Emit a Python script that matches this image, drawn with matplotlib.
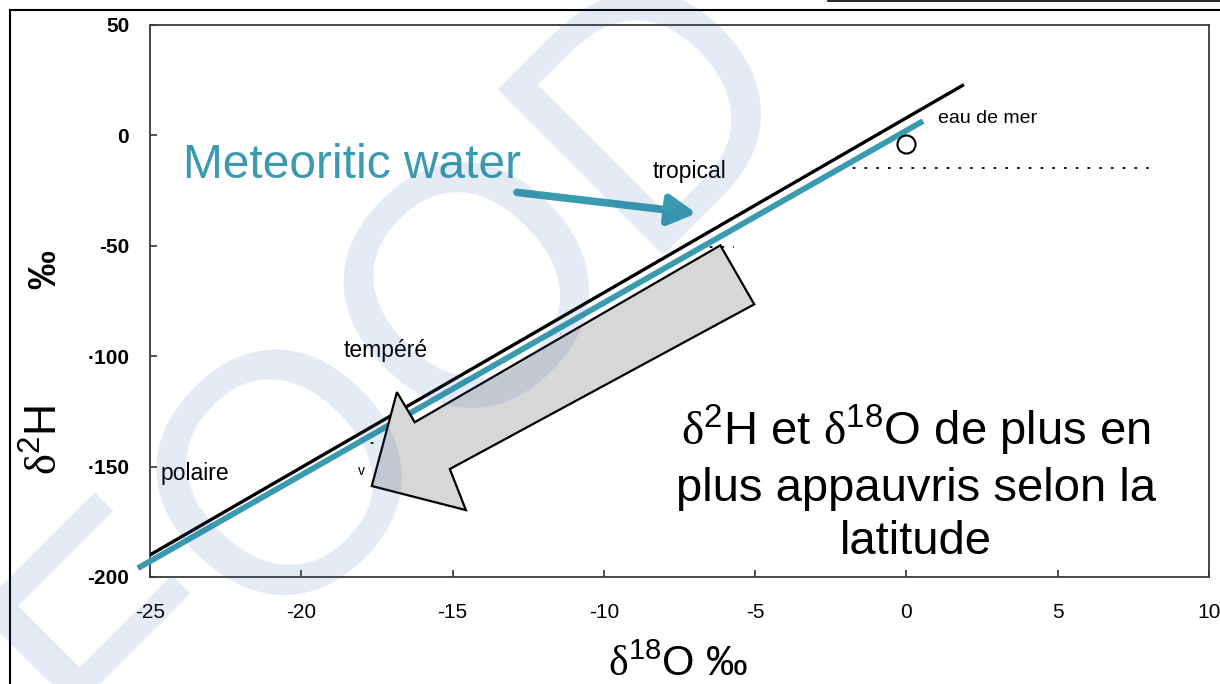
import matplotlib
matplotlib.use("Agg")
import matplotlib.pyplot as plt
from matplotlib.patches import Polygon
from matplotlib.lines import Line2D

plt.rcParams["font.family"] = ["Liberation Sans", "DejaVu Sans"]
plt.rcParams["mathtext.fontset"] = "custom"
plt.rcParams["mathtext.rm"] = "Liberation Serif"
plt.rcParams["mathtext.sf"] = "Liberation Sans"

# data
gmwl_x = [-25.0, 1.9]
gmwl_y = [-190.0, 23.0]
meteoric_x = [-25.4, 0.55]
meteoric_y = [-196.0, 6.5]
seawater_x = [0.0]
seawater_y = [-4.0]

zone_names = ["tropical", "tempéré", "polaire"]
zone_x = [-8.4, -18.6, -24.65]
zone_y = [-16.5, -97.5, -153.0]

# dotted marks left over in the scan
dots_x = [[-2.15, 8.1], [-6.9, -5.7], [-11.8, -11.4], [-18.1, -17.4]]
dots_y = [-14.6, -50.7, -90.0, -139.4]

# grey "depletion" arrow outline
arrow_x = [-6.15, -5.03, -15.09, -14.56, -17.67, -16.84, -16.25]
arrow_y = [-49.8, -76.5, -151.1, -169.7, -158.8, -116.3, -129.9]

x_ticks = [-25, -20, -15, -10, -5, 0, 5, 10]
x_labels = ["-25", "-20", "-15", "-10", "-5", "0", "5", "10"]
y_ticks = [50, 0, -50, -100, -150, -200]
y_labels = ["50", "0", "-50", "·100", "·150", "-200"]

teal = "#3A9BB0"

fig = plt.figure(figsize=(12.2, 6.84), dpi=100)
ax = fig.add_axes([150 / 1220, 107 / 684, 1059 / 1220, 552 / 684])

ax.plot(gmwl_x, gmwl_y, color="black", lw=2.4, solid_capstyle="butt", zorder=3)
ax.plot(meteoric_x, meteoric_y, color=teal, lw=4.2, solid_capstyle="butt",
        clip_on=False, zorder=4)
ax.plot(seawater_x, seawater_y, "o", ms=13, mfc="white", mec="black", mew=1.5, zorder=5)
ax.text(1.05, 7.7, "eau de mer", fontsize=14, va="center", ha="left")

for dx, dy in zip(dots_x, dots_y):
    ax.plot(dx, [dy, dy], color="black", lw=1.3, ls=(0, (1.5, 5)), zorder=2)
ax.text(-18.0, -152, "v", fontsize=10, ha="center", va="center")

for name, zx, zy in zip(zone_names, zone_x, zone_y):
    ax.text(zx, zy, name, fontsize=16.5, ha="left", va="center")

ax.text(-23.9, -19.5, "Meteoritic water", fontsize=34.5, color=teal,
        ha="left", va="baseline")
ax.annotate("", xy=(-6.94, -35.3), xytext=(-12.87, -25.8),
            arrowprops=dict(arrowstyle="-|>,head_length=0.9,head_width=0.5",
                            color=teal, lw=5.5, mutation_scale=18,
                            shrinkA=0, shrinkB=0), zorder=6)

ax.add_patch(Polygon(list(zip(arrow_x, arrow_y)), closed=True, facecolor="#D7D7D7",
                     edgecolor="black", lw=1.6, zorder=7))

ax.text(0.3, -157.5, "$\\mathrm{\\delta}^{\\mathsf{2}}$H et $\\mathrm{\\delta}^{\\mathsf{18}}$O de plus en\n"
        "plus appauvris selon la\nlatitude",
        fontsize=34, ha="center", va="center", multialignment="center",
        linespacing=1.26, zorder=8)

ax.set_xlim(-25, 10)
ax.set_ylim(-200, 50)
ax.set_xticks(x_ticks)
ax.set_xticklabels(x_labels, fontsize=15)
ax.set_yticks(y_ticks)
ax.set_yticklabels(y_labels, fontsize=15, fontweight="bold")
ax.tick_params(axis="x", direction="in", length=5, width=1.2, pad=19, color="#333333")
ax.tick_params(axis="y", direction="in", length=5, width=1.2, pad=15, color="#333333")
for s in ax.spines.values():
    s.set_color("#3a3a3a")
    s.set_linewidth(1.3)

fig.text(678 / 1220, 1 - 665 / 684, "$\\mathrm{\\delta}^{\\mathsf{18}}$O ‰", fontsize=30,
         ha="center", va="center")
fig.text(45 / 1220, 1 - 440 / 684, "$\\mathrm{\\delta}^{\\mathsf{2}}$H", fontsize=32,
         rotation=90, ha="center", va="center")
fig.text(45 / 1220, 1 - 270 / 684, "‰", fontsize=28, fontweight="bold",
         rotation=90, ha="center", va="center")

# slide frame
fig.add_artist(Line2D([10 / 1220, 1], [1 - 10 / 684, 1 - 10 / 684], color="black", lw=1.5))
fig.add_artist(Line2D([10 / 1220, 10 / 1220], [0, 1 - 10 / 684], color="black", lw=1.5))
fig.add_artist(Line2D([828 / 1220, 1], [0.999, 0.999], color="black", lw=1.2))

# watermark
fig.text(462 / 1220, 1 - 428 / 684, "FOOD", fontsize=245, rotation=45,
         rotation_mode="anchor", ha="center", va="baseline",
         color="#3060B0", alpha=0.13, zorder=10)

fig.savefig("out.png", dpi=100)
